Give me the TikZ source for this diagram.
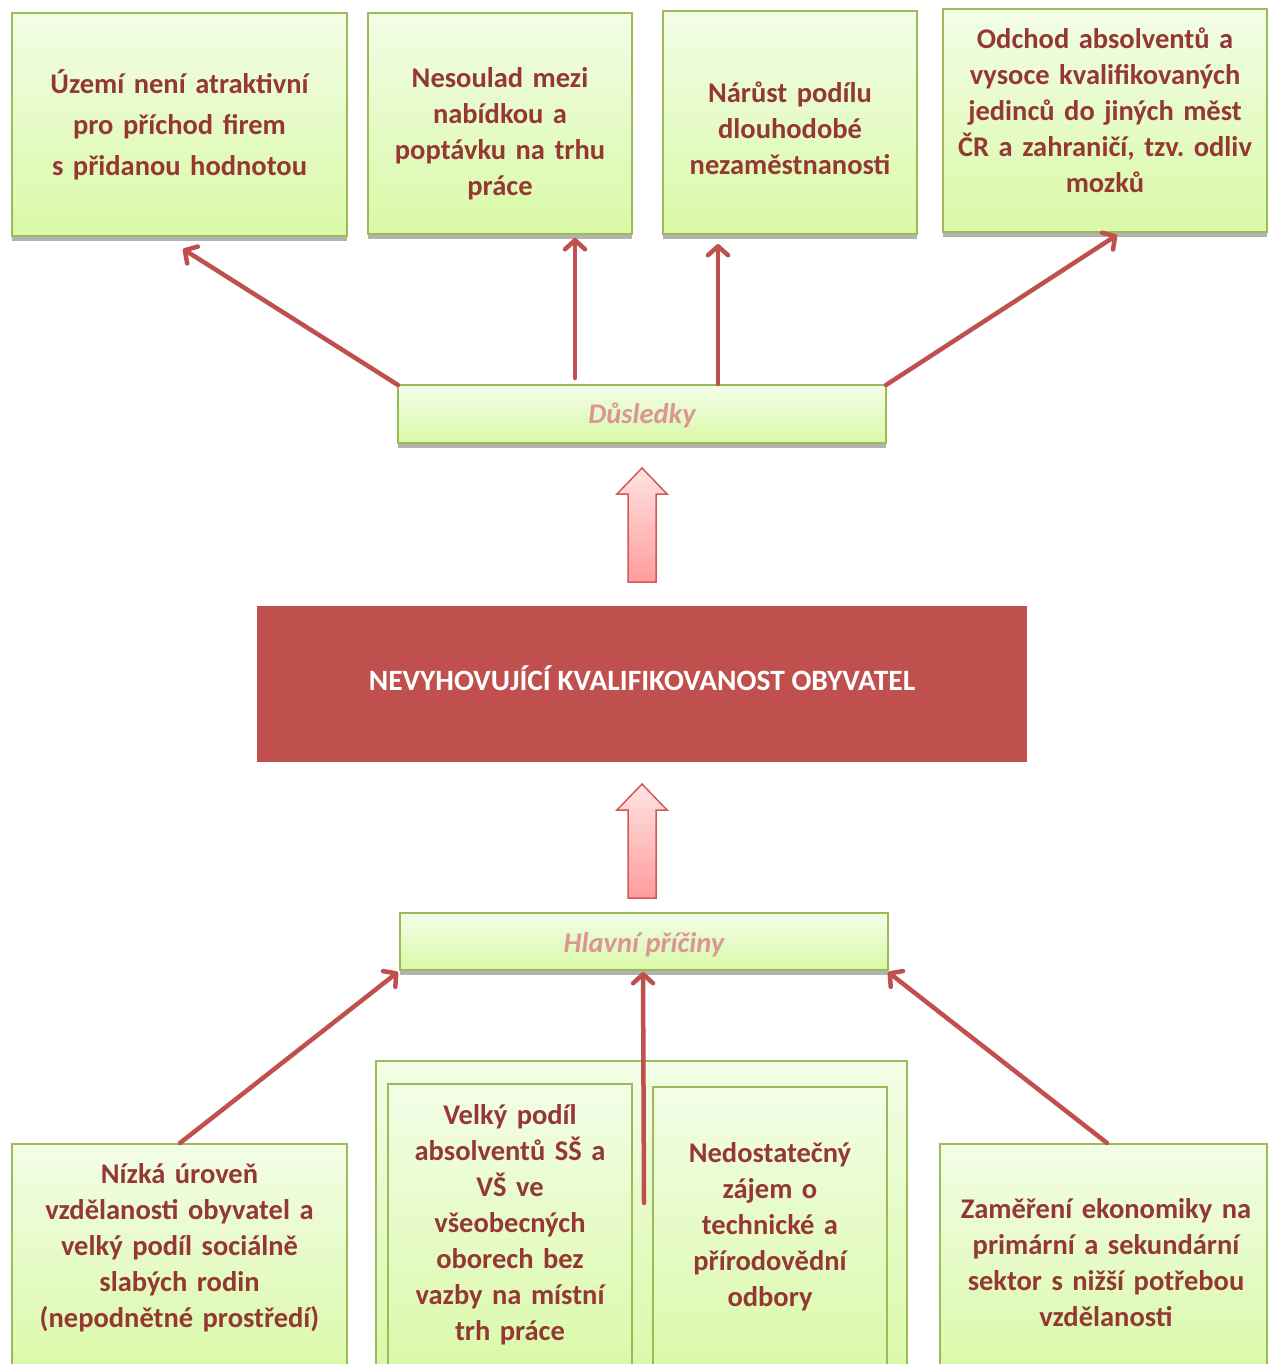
\documentclass[tikz,border=0pt]{standalone}
\usepackage{fontspec}
\setmainfont{Carlito}
\usetikzlibrary{arrows.meta,calc}
\definecolor{txtred}{HTML}{953735}
\definecolor{bordergreen}{HTML}{9BBB59}
\definecolor{filltop}{HTML}{F3FDE7}
\definecolor{fillbot}{HTML}{D9F9A6}
\definecolor{mainred}{HTML}{C0504D}
\definecolor{pinklabel}{HTML}{DB9594}
\definecolor{arrtop}{HTML}{FFE3E3}
\definecolor{arrbot}{HTML}{FF9C9C}
\definecolor{arredge}{HTML}{D05A58}
\tikzset{
  gbox/.style={draw=bordergreen, line width=2pt, top color=filltop, bottom color=fillbot, inner sep=0pt, outer sep=0pt, rectangle},
  shadowln/.style={draw=gray!60, line width=3.5pt},
  txt/.style={text=txtred, align=center, inner sep=0pt, font=\bfseries\fontsize{28.5}{36}\selectfont},
  lbl/.style={text=pinklabel, inner sep=0pt, font=\bfseries\itshape\fontsize{28.5}{34}\selectfont},
  conn/.style={draw=mainred, line width=4.5pt, line cap=round, -{Straight Barb[length=9pt,width=20pt,line cap=round,line join=round]}},
  blockarrow/.style={draw=arredge, line width=1.5pt, top color=arrtop, bottom color=arrbot, line join=miter}
}
\begin{document}
\frenchspacing
\begin{tikzpicture}[x=1pt,y=-1pt]
\useasboundingbox (0,0) rectangle (1268,1364);
% top boxes
\node[gbox, minimum width=335pt, minimum height=223pt] (t1) at (179.5,124.5) {};
\node[gbox, minimum width=264pt, minimum height=221pt] (t2) at (500,123.5) {};
\node[gbox, minimum width=254pt, minimum height=223pt] (t3) at (790,122.5) {};
\node[gbox, minimum width=324pt, minimum height=223pt] (t4) at (1105,120.5) {};
\foreach \b in {t1,t2,t3,t4}{\draw[shadowln] ([yshift=-3pt]\b.south west) -- ([yshift=-3pt]\b.south east);}
\node[txt, text width=335pt, font=\bfseries\fontsize{28.5}{41}\selectfont] (t1t) at (179.5,125) {Území není atraktivní\\pro příchod firem\\s přidanou hodnotou};
\node[txt, text width=264pt] (t2t) at (500,134) {Nesoulad mezi\\nabídkou a\\poptávku na trhu\\práce};
\node[txt, text width=254pt] (t3t) at (790,128) {Nárůst podílu\\dlouhodobé\\nezaměstnanosti};
\node[txt, text width=324pt] (t4t) at (1105,110) {Odchod absolventů a\\vysoce kvalifikovaných\\jedinců do jiných měst\\ČR a zahraničí, tzv. odliv\\mozků};
% Dusledky
\node[gbox, minimum width=488pt, minimum height=58pt] (dus) at (642,414) {};
\draw[shadowln] ([yshift=-3pt]dus.south west) -- ([yshift=-3pt]dus.south east);
\node[lbl] (dust) at (642,415) {Důsledky};
% main box
\node[fill=mainred, minimum width=770pt, minimum height=156pt, inner sep=0pt] (main) at (642,684) {};
\node[text=white, inner sep=0pt, font=\bfseries\fontsize{29.5}{34}\selectfont] (maint) at (642,678) {NEVYHOVUJÍCÍ KVALIFIKOVANOST OBYVATEL};
% block arrows
\shade[blockarrow] (642,468) -- (667,494) -- (656,494) -- (656,582) -- (628,582) -- (628,494) -- (617,494) -- cycle;
\shade[blockarrow] (642,784) -- (667,810) -- (656,810) -- (656,898) -- (628,898) -- (628,810) -- (617,810) -- cycle;
% Hlavni priciny
\node[gbox, minimum width=488pt, minimum height=57pt] (hp) at (644,941.5) {};
\draw[shadowln] ([yshift=-3pt]hp.south west) -- ([yshift=-3pt]hp.south east);
\node[lbl] (hpt) at (644,945) {Hlavní příčiny};
% bottom boxes
\node[gbox, minimum width=335pt, minimum height=236pt] (b1) at (179.5,1262) {};
\node[gbox, minimum width=531pt, minimum height=319pt] (grp) at (641.5,1220.5) {};
\node[gbox, minimum width=244pt, minimum height=296pt] (bA) at (510,1232) {};
\node[gbox, minimum width=234pt, minimum height=293pt] (bB) at (770,1233.5) {};
\node[gbox, minimum width=327pt, minimum height=236pt] (b5) at (1103.5,1262) {};
\node[txt, text width=335pt] (b1t) at (179.5,1248) {Nízká úroveň\\vzdělanosti obyvatel a\\velký podíl sociálně\\slabých rodin\\(nepodnětné prostředí)};
\node[txt, text width=244pt] (bAt) at (510,1224.5) {Velký podíl\\absolventů SŠ a\\VŠ ve\\všeobecných\\oborech bez\\vazby na místní\\trh práce};
\node[txt, text width=234pt] (bBt) at (770,1227) {Nedostatečný\\zájem o\\technické a\\přírodovědní\\odbory};
\node[txt, text width=327pt] (b5t) at (1106,1263) {Zaměření ekonomiky na\\primární a sekundární\\sektor s nižší potřebou\\vzdělanosti};
% connectors top
\draw[conn] (dus.north west) -- ([xshift=3.5pt,yshift=-13pt]t1.south);
\draw[conn] ([xshift=-67pt,yshift=7pt]dus.north) -- ([xshift=75pt,yshift=-4pt]t2.south);
\draw[conn] ([xshift=76pt,yshift=1pt]dus.north) -- ([xshift=-72pt,yshift=-10pt]t3.south);
\draw[conn] (dus.north east) -- ([xshift=12pt,yshift=-3pt]t4.south);
% connectors bottom
\draw[conn] ([xshift=0.5pt,yshift=1pt]b1.north) -- ([xshift=-2pt,yshift=-2pt]hp.south west);
\draw[conn] (hp.south |- 643,1203) -- ([xshift=-1pt,yshift=-2pt]hp.south);
\draw[conn] ([xshift=3.5pt,yshift=1pt]b5.north) -- ([yshift=-2pt]hp.south east);
\end{tikzpicture}
\end{document}
